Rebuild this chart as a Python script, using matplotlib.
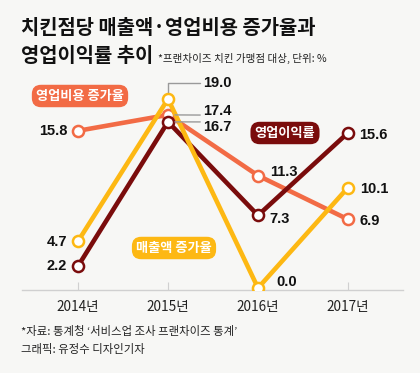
import matplotlib
matplotlib.use("Agg")
import matplotlib.pyplot as plt

plt.rcParams['font.family'] = ['Noto Sans CJK KR', 'DejaVu Sans']

years = ["2014년", "2015년", "2016년", "2017년"]
sales_growth = [4.7, 19.0, 0.0, 10.1]      # 매출액 증가율
cost_growth = [15.8, 17.4, 11.3, 6.9]      # 영업비용 증가율
op_margin = [2.2, 16.7, 7.3, 15.6]         # 영업이익률

BG = '#f7f7f5'
C_COST = '#f26b45'
C_MARGIN = '#7a0c0c'
C_SALES = '#fdb813'
W, H = 420, 373

fig = plt.figure(figsize=(W / 100, H / 100), dpi=100, facecolor=BG)


def fx(px):
    return px / W


def fy(py):
    return 1 - py / H


# axes: pixel x 22..403, pixel y 75..290
ax = fig.add_axes([fx(22), fy(290), (403 - 22) / W, (290 - 75) / H])
ax.set_facecolor(BG)
x = list(range(len(years)))
ax.set_xlim((22 - 78) / 90.0, (403 - 78) / 90.0)
ax.set_ylim(-0.2, (288 - 75) / 9.95)

lw = 3.3
mk = dict(marker='o', markersize=8, markerfacecolor='white', markeredgewidth=1.8)
ax.plot(x, cost_growth, color=C_COST, lw=lw, markeredgecolor=C_COST, zorder=2, **mk)
ax.plot(x, op_margin, color=C_MARGIN, lw=lw, markeredgecolor=C_MARGIN, zorder=3, **mk)
ax.plot(x, sales_growth, color=C_SALES, lw=lw, markeredgecolor=C_SALES, zorder=4, **mk)

for s in ['top', 'right', 'left']:
    ax.spines[s].set_visible(False)
ax.spines['bottom'].set_color('#d0d0d0')
ax.spines['bottom'].set_linewidth(1)
ax.set_yticks([])
ax.set_xticks(x)
ax.set_xticklabels(years, fontsize=9.8, color='#222222')
ax.tick_params(axis='x', direction='in', length=6, color='#d0d0d0', pad=7)

num = dict(fontsize=10.5, fontweight='bold', color='#111111',
           family=['Liberation Sans', 'DejaVu Sans'], textcoords='offset pixels',
           va='center', zorder=6)

# 2014 labels (left)
ax.annotate(f"{cost_growth[0]:.1f}", (x[0], cost_growth[0]), xytext=(-11, 0), ha='right', **num)
ax.annotate(f"{sales_growth[0]:.1f}", (x[0], sales_growth[0]), xytext=(-11, -1), ha='right', **num)
ax.annotate(f"{op_margin[0]:.1f}", (x[0], op_margin[0]), xytext=(-11, 0), ha='right', **num)

# 2015 labels with leader lines
lead = dict(arrowstyle='-', color='#9a9a9a', lw=1, shrinkA=0, shrinkB=5)
ax.annotate(f"{sales_growth[1]:.1f}", (x[1], sales_growth[1]), xytext=(35, 16), ha='left',
            arrowprops=dict(connectionstyle='angle,angleA=0,angleB=90,rad=0', **lead), **num)
ax.annotate(f"{cost_growth[1]:.1f}", (x[1], cost_growth[1]), xytext=(35, 4), ha='left',
            arrowprops=dict(relpos=(0, 0.2), **lead), **num)
ax.annotate(f"{op_margin[1]:.1f}", (x[1], op_margin[1]), xytext=(35, -5), ha='left',
            arrowprops=dict(relpos=(0, 0.85), **lead), **num)

# 2016 labels
ax.annotate(f"{cost_growth[2]:.1f}", (x[2], cost_growth[2]), xytext=(12, 4), ha='left', **num)
ax.annotate(f"{op_margin[2]:.1f}", (x[2], op_margin[2]), xytext=(11, -4), ha='left', **num)
ax.annotate(f"{sales_growth[2]:.1f}", (x[2], sales_growth[2]), xytext=(18, 6), ha='left', **num)

# 2017 labels
ax.annotate(f"{op_margin[3]:.1f}", (x[3], op_margin[3]), xytext=(11, -2), ha='left', **num)
ax.annotate(f"{sales_growth[3]:.1f}", (x[3], sales_growth[3]), xytext=(12, -1), ha='left', **num)
ax.annotate(f"{cost_growth[3]:.1f}", (x[3], cost_growth[3]), xytext=(12, -2), ha='left', **num)

# series badges
badge = dict(fontsize=9.5, fontweight='bold', color='white', ha='center', va='center')
fig.text(fx(80), fy(96), "영업비용 증가율",
         bbox=dict(boxstyle='round,pad=0.32,rounding_size=0.7', fc=C_COST, ec='none'), **badge)
fig.text(fx(285), fy(133), "영업이익률",
         bbox=dict(boxstyle='round,pad=0.32,rounding_size=0.7', fc=C_MARGIN, ec='none'), **badge)
fig.text(fx(174), fy(248), "매출액 증가율",
         bbox=dict(boxstyle='round,pad=0.32,rounding_size=0.7', fc=C_SALES, ec='none'), **badge)

# titles
fig.text(fx(21), fy(27), "치킨점당 매출액·영업비용 증가율과", fontsize=14.3, fontweight='heavy',
         color='#111111', ha='left', va='center')
fig.text(fx(21), fy(56), "영업이익률 추이", fontsize=14.3, fontweight='heavy',
         color='#111111', ha='left', va='center')
fig.text(fx(158), fy(58), "*프랜차이즈 치킨 가맹점 대상, 단위: %", fontsize=7.6,
         color='#222222', ha='left', va='center')

# footnotes
fig.text(fx(21), fy(332), "*자료: 통계청 ‘서비스업 조사 프랜차이즈 통계’", fontsize=8.2,
         color='#222222', ha='left', va='center')
fig.text(fx(21), fy(350), "그래픽: 유정수 디자인기자", fontsize=8.2,
         color='#222222', ha='left', va='center')

fig.savefig("out.png", dpi=100, facecolor=BG)
